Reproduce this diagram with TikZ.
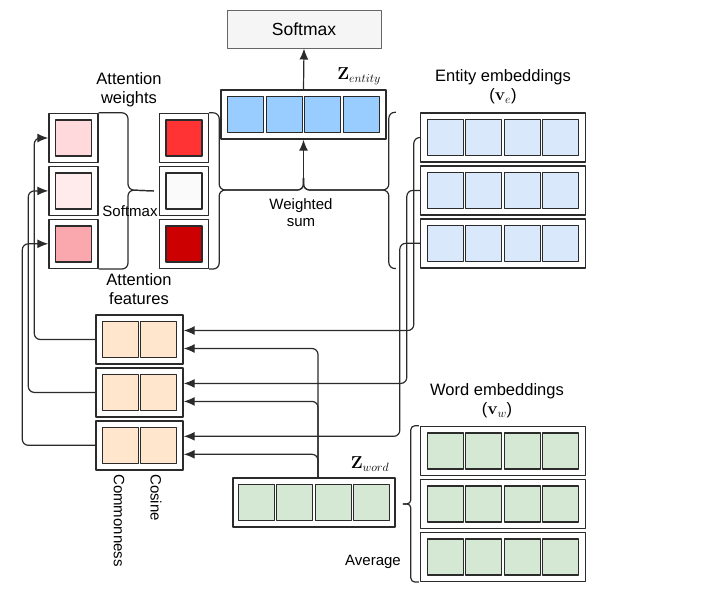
\documentclass[tikz,border=0pt]{standalone}
\usepackage[no-math]{fontspec}
\setmainfont{Liberation Sans}
\usetikzlibrary{positioning,arrows.meta}
\definecolor{dark}{HTML}{2B2B2B}
\definecolor{zfill}{HTML}{99CCFF}
\definecolor{entfill}{HTML}{DAE8FC}
\definecolor{wordfill}{HTML}{D5E8D4}
\definecolor{featfill}{HTML}{FFE6CC}
\definecolor{wla}{HTML}{FFD9DC}
\definecolor{wlb}{HTML}{FFEAEC}
\definecolor{wlc}{HTML}{FAA8AD}
\definecolor{wra}{HTML}{FF3333}
\definecolor{wrb}{HTML}{FAFAFA}
\definecolor{wrc}{HTML}{CC0000}
\begin{document}
\begin{tikzpicture}[x=1pt, y=-1pt, line join=round,
  every node/.style={font=\fontsize{15}{17}\selectfont},
  row/.style={draw=dark, line width=1.4pt, fill=white, minimum height=49pt, inner sep=0pt},
  wide/.style={row, minimum width=165pt},
  pair/.style={row, minimum width=87pt},
  single/.style={row, minimum width=49pt},
  cell/.style={draw=dark, line width=1.4pt, minimum width=36pt, minimum height=36pt, inner sep=0pt},
  lbl/.style={align=center, inner sep=1pt},
  ttl/.style={lbl, font=\fontsize{16.5}{19}\selectfont},
  zlbl/.style={lbl, font=\fontsize{17}{20}\selectfont},
  conn/.style={draw=dark, line width=1.2pt, rounded corners=6pt},
  arr/.style={conn, -{Latex[length=11pt, width=9pt]}}]
\useasboundingbox (0,0) rectangle (703,603);

% output
\node[draw=gray!80!black, fill=gray!8, line width=1pt, minimum width=154pt, minimum height=38pt, font=\fontsize{17.5}{20}\selectfont] (smax) at (304,29) {Softmax};
\node[wide] (zent) at (303.5,114.5) {};
\foreach \k in {1,...,4}
  \node[cell, fill=zfill] (zent-\k) at ([xshift={(\k-2.5)*38.5pt}]zent.center) {};

% entity embeddings
\node[wide] (ent1) at (503,137.5) {};
\node[wide, below=2.5pt of ent1] (ent2) {};
\node[wide, below=2.5pt of ent2] (ent3) {};
% word embeddings
\node[wide] (word1) at (503,451) {};
\node[wide, below=2.5pt of word1] (word2) {};
\node[wide, below=2.5pt of word2] (word3) {};
\foreach \i in {1,2,3}
  \foreach \k in {1,...,4} {
    \node[cell, fill=entfill] (ent\i-\k) at ([xshift={(\k-2.5)*38.5pt}]ent\i.center) {};
    \node[cell, fill=wordfill] (word\i-\k) at ([xshift={(\k-2.5)*38.5pt}]word\i.center) {};
  }
\node[wide, minimum width=162pt] (zword) at (314,502.5) {};
\foreach \k in {1,...,4}
  \node[cell, fill=wordfill] (zword-\k) at ([xshift={(\k-2.5)*38.5pt}]zword.center) {};

% attention features
\node[pair] (feat1) at (139.5,339.5) {};
\node[pair, below=2.5pt of feat1] (feat2) {};
\node[pair, below=2.5pt of feat2] (feat3) {};
\foreach \i in {1,2,3}
  \foreach \k in {1,2}
    \node[cell, fill=featfill] (feat\i-\k) at ([xshift={(\k-1.5)*38.5pt}]feat\i.center) {};

% attention weights
\node[single] (wl1) at (73.5,138) {};
\node[single, below=2.5pt of wl1] (wl2) {};
\node[single, below=2.5pt of wl2] (wl3) {};
\node[single] (wr1) at (184,138) {};
\node[single, below=2.5pt of wr1] (wr2) {};
\node[single, below=2.5pt of wr2] (wr3) {};
\foreach \i/\a/\b in {1/wla/wra, 2/wlb/wrb, 3/wlc/wrc} {
  \node[cell, fill=\a] (wl\i-c) at (wl\i) {};
  \node[cell, fill=\b] (wr\i-c) at (wr\i) {};
}

% braces
\coordinate (smx) at (128,190);
\draw[conn] (wl1.north east) -| (smx) -- ([xshift=-5pt]wr2.west);
\draw[conn] (wl3.south east) -| (smx) -- ([xshift=-5pt]wr2.west);
\coordinate (wsum) at (303.5,190);
\draw[conn] (wr1.north east) -- ++(10,0) |- (wsum) -- ++(0,-12);
\draw[conn] (wr3.south east) -- ++(10,0) |- (wsum) -- ++(0,-12);
\draw[conn] ([xshift=-24pt]ent1.north west) -- ++(-7,0) |- (wsum) -- ++(0,-12);
\draw[conn] ([xshift=-24pt]ent3.south west) -- ++(-7,0) |- (wsum) -- ++(0,-12);
\draw[conn, rounded corners=4pt] ([xshift=-1pt]word1.north west) -- ++(-8,0) |- ([xshift=-17pt]word2.west);
\draw[conn, rounded corners=4pt] ([xshift=-1pt]word3.south west) -- ++(-8,0) |- ([xshift=-17pt]word2.west);

% connectors
\draw[arr] ([yshift=10pt]wsum) -- (zent.south);
\draw[arr] (zent.north) -- (smax.south);
\foreach \i/\dx in {1/6, 2/13, 3/20}
  \draw[arr] (ent\i.west) -- ++(-\dx,0) |- ([yshift=9pt]feat\i.east);
\coordinate (tap) at ([xshift=4pt]zword.north);
\foreach \i in {1,2,3}
  \draw[arr] (tap) |- ([yshift=-9pt]feat\i.east);
\foreach \i/\dx in {1/61, 2/67, 3/73}
  \draw[arr] (feat\i.west) -- ++(-\dx,0) |- (wl\i.west);

% labels
\node[ttl] (attwlbl) at (129,90) {Attention\\weights};
\node[lbl] (smxlbl) at (130,211) {Softmax};
\node[lbl] (wsumlbl) at (301,213) {Weighted\\sum};
\node[ttl] (entlbl) at (503,87) {Entity embeddings\\($\mathbf{v}_e$)};
\node[ttl] (featlbl) at (139,289) {Attention\\features};
\node[ttl] (wordlbl) at (497,401) {Word embeddings\\($\mathbf{v}_w$)};
\node[zlbl] (zentlbl) at (359,76) {$\mathbf{Z}_{entity}$};
\node[zlbl] (zwordlbl) at (370,464) {$\mathbf{Z}_{word}$};
\node[lbl] (avglbl) at (373,562) {Average};
\node[lbl, rotate=-90, anchor=west] (commlbl) at (119,473) {Commonness};
\node[lbl, rotate=-90, anchor=west] (coslbl) at (156,473) {Cosine};
\end{tikzpicture}
\end{document}
